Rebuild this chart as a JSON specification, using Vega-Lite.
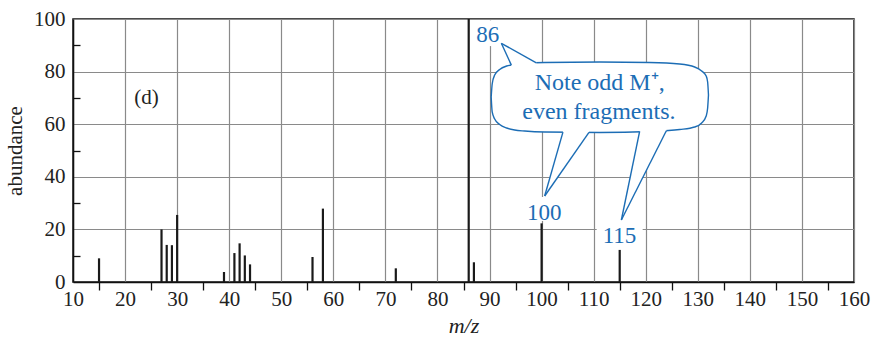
{
  "$schema": "https://vega.github.io/schema/vega-lite/v6.json",
  "width": 781,
  "height": 263,
  "autosize": {"type": "none"},
  "padding": {"left": 73, "top": 19, "right": 20, "bottom": 56},
  "config": {"view": {"stroke": "#111111", "strokeWidth": 1.5}, "font": "Liberation Serif"},
  "datasets": {
    "peaks": [
      {"mz": 15, "abundance": 9.0},
      {"mz": 27, "abundance": 20.0},
      {"mz": 28, "abundance": 14.1},
      {"mz": 29, "abundance": 14.0},
      {"mz": 30, "abundance": 25.5},
      {"mz": 39, "abundance": 3.8},
      {"mz": 41, "abundance": 11.0},
      {"mz": 42, "abundance": 14.7},
      {"mz": 43, "abundance": 10.1},
      {"mz": 44, "abundance": 6.7},
      {"mz": 56, "abundance": 9.5},
      {"mz": 58, "abundance": 27.9},
      {"mz": 72, "abundance": 5.2},
      {"mz": 86, "abundance": 100},
      {"mz": 87, "abundance": 7.5},
      {"mz": 100, "abundance": 22.3},
      {"mz": 115, "abundance": 12.2}
    ],
    "boxes": [
      {"x1": 86.95, "x2": 92.14, "y1": 99.5, "y2": 89.7},
      {"x1": 96.75, "x2": 104.05, "y1": 32.32, "y2": 23.19},
      {"x1": 110.58, "x2": 119.41, "y1": 22.05, "y2": 13.69}
    ],
    "bubble": [
      {"x": 90.32, "top": 70.34, "bottom": 70.34},
      {"x": 90.51, "top": 75.29, "bottom": 64.64},
      {"x": 90.99, "top": 78.71, "bottom": 61.98},
      {"x": 91.95, "top": 80.80, "bottom": 59.89},
      {"x": 93.29, "top": 82.13, "bottom": 58.56},
      {"x": 94.83, "top": 82.70, "bottom": 57.79},
      {"x": 96.75, "top": 83.08, "bottom": 57.41},
      {"x": 100.59, "top": 83.46, "bottom": 57.03},
      {"x": 111.15, "top": 83.65, "bottom": 56.84},
      {"x": 120.75, "top": 83.46, "bottom": 57.22},
      {"x": 126.52, "top": 82.89, "bottom": 57.98},
      {"x": 129.40, "top": 81.75, "bottom": 58.94},
      {"x": 130.74, "top": 80.23, "bottom": 60.46},
      {"x": 131.61, "top": 78.33, "bottom": 63.12},
      {"x": 131.89, "top": 76.05, "bottom": 66.16},
      {"x": 132.05, "top": 71.10, "bottom": 71.10}
    ],
    "pointerFill": [
      {"id": "p86", "x": 92.27, "top": 90.76, "bottom": 90.76},
      {"id": "p86", "x": 94.14, "top": 88.68, "bottom": 82.68},
      {"id": "p86", "x": 94.24, "top": 88.57, "bottom": 81.6},
      {"id": "p86", "x": 98.99, "top": 83.6, "bottom": 82.5},
      {"id": "p100", "x": 100.59, "top": 32.70, "bottom": 32.70},
      {"id": "p100", "x": 104.05, "top": 56.65, "bottom": 42.54},
      {"id": "p100", "x": 104.15, "top": 57.9, "bottom": 42.82},
      {"id": "p100", "x": 109.10, "top": 57.9, "bottom": 56.5},
      {"id": "p115", "x": 115.32, "top": 23.57, "bottom": 23.57},
      {"id": "p115", "x": 118.78, "top": 56.82, "bottom": 37.16},
      {"id": "p115", "x": 118.88, "top": 58.2, "bottom": 37.55},
      {"id": "p115", "x": 123.96, "top": 58.4, "bottom": 57.3}
    ],
    "pointerLines": [
      {"seg": "86a", "ord": 0, "x": 92.27, "y": 90.76},
      {"seg": "86a", "ord": 1, "x": 94.19, "y": 82.46},
      {"seg": "86b", "ord": 0, "x": 92.27, "y": 90.76},
      {"seg": "86b", "ord": 1, "x": 98.99, "y": 83.3},
      {"seg": "100a", "ord": 0, "x": 100.59, "y": 32.70},
      {"seg": "100a", "ord": 1, "x": 104.10, "y": 57.0},
      {"seg": "100b", "ord": 0, "x": 100.59, "y": 32.70},
      {"seg": "100b", "ord": 1, "x": 109.10, "y": 56.9},
      {"seg": "115a", "ord": 0, "x": 115.32, "y": 23.57},
      {"seg": "115a", "ord": 1, "x": 118.83, "y": 57.3},
      {"seg": "115b", "ord": 0, "x": 115.32, "y": 23.57},
      {"seg": "115b", "ord": 1, "x": 123.96, "y": 57.5}
    ],
    "peakLabels": [
      {"text": "86", "x": 89.64, "y": 91.37},
      {"text": "100", "x": 100.49, "y": 23.57},
      {"text": "115", "x": 114.97, "y": 14.7}
    ],
    "note": [
      {"text": "Note odd M⁺,", "x": 111.15, "y": 73.0},
      {"text": "even fragments.", "x": 111.0, "y": 61.98}
    ],
    "panel": [
      {"text": "(d)", "x": 24.1, "y": 67.7}
    ]
  },
  "layer": [
    {
      "data": {"name": "peaks"},
      "mark": {"type": "rule", "color": "#1a1a1a", "strokeWidth": 2.2},
      "encoding": {
        "x": {
          "field": "mz", "type": "quantitative",
          "scale": {"domain": [10, 160], "nice": false, "zero": false},
          "title": "m/z",
          "axis": {
            "orient": "bottom",
            "values": [10, 20, 30, 40, 50, 60, 70, 80, 90, 100, 110, 120, 130, 140, 150, 160],
            "ticks": false, "grid": true, "gridColor": "#8a8a8a", "gridWidth": 1.2,
            "domainColor": "#111111", "domainWidth": 1.5,
            "labelFont": "Liberation Serif", "labelFontSize": 21, "labelColor": "#222222",
            "labelPadding": 6, "labelOverlap": false, "labelFlush": false,
            "titleFont": "Liberation Serif", "titleFontStyle": "italic", "titleFontSize": 22,
            "titleFontWeight": "normal", "titleColor": "#222222", "titlePadding": 6
          }
        },
        "y": {
          "field": "abundance", "type": "quantitative",
          "scale": {"domain": [0, 100], "nice": false},
          "title": "abundance",
          "axis": {
            "orient": "left",
            "values": [0, 20, 40, 60, 80, 100],
            "ticks": false, "grid": true, "gridColor": "#8a8a8a", "gridWidth": 1.2,
            "domainColor": "#111111", "domainWidth": 1.5,
            "labelFont": "Liberation Serif", "labelFontSize": 21, "labelColor": "#222222",
            "labelPadding": 8, "labelOverlap": false, "labelFlush": false,
            "titleFont": "Liberation Serif", "titleFontSize": 21,
            "titleFontWeight": "normal", "titleColor": "#222222", "titlePadding": 8
          }
        },
        "y2": {"datum": 0}
      }
    },
    {
      "data": {"name": "boxes"},
      "mark": {"type": "rect", "fill": "white", "stroke": null},
      "encoding": {
        "x": {
          "field": "x1", "type": "quantitative",
          "scale": {"domain": [10, 160], "nice": false, "zero": false},
          "axis": {
            "orient": "bottom", "title": null,
            "values": [15, 25, 35, 45, 55, 65, 75, 85, 95, 105, 115, 125, 135, 145, 155],
            "ticks": true, "tickSize": 8, "tickColor": "#111111", "tickWidth": 1.3,
            "labels": false, "domain": false, "grid": false
          }
        },
        "x2": {"field": "x2"},
        "y": {
          "field": "y1", "type": "quantitative",
          "scale": {"domain": [0, 100], "nice": false},
          "axis": {
            "orient": "left", "title": null,
            "values": [10, 30, 50, 70, 90],
            "ticks": true, "tickSize": -7, "tickColor": "#111111", "tickWidth": 1.3,
            "labels": false, "domain": false, "grid": false
          }
        },
        "y2": {"field": "y2"}
      }
    },
    {
      "data": {"name": "bubble"},
      "mark": {"type": "area", "fill": "white", "stroke": "#1c6db5", "strokeWidth": 1.4, "interpolate": "monotone"},
      "encoding": {
        "x": {"field": "x", "type": "quantitative", "scale": {"domain": [10, 160], "nice": false, "zero": false}, "axis": null},
        "y": {"field": "top", "type": "quantitative", "scale": {"domain": [0, 100], "nice": false}, "axis": null},
        "y2": {"field": "bottom"}
      }
    },
    {
      "data": {"name": "pointerFill"},
      "mark": {"type": "area", "fill": "white", "stroke": null},
      "encoding": {
        "x": {"field": "x", "type": "quantitative", "scale": {"domain": [10, 160], "nice": false, "zero": false}, "axis": null},
        "y": {"field": "top", "type": "quantitative", "scale": {"domain": [0, 100], "nice": false}, "axis": null},
        "y2": {"field": "bottom"},
        "detail": {"field": "id"}
      }
    },
    {
      "data": {"name": "pointerLines"},
      "mark": {"type": "line", "color": "#1c6db5", "strokeWidth": 1.4},
      "encoding": {
        "x": {"field": "x", "type": "quantitative", "scale": {"domain": [10, 160], "nice": false, "zero": false}, "axis": null},
        "y": {"field": "y", "type": "quantitative", "scale": {"domain": [0, 100], "nice": false}, "axis": null},
        "detail": {"field": "seg"},
        "order": {"field": "ord"}
      }
    },
    {
      "data": {"name": "peakLabels"},
      "mark": {"type": "text", "color": "#1c6db5", "font": "Liberation Serif", "fontSize": 23, "align": "center", "baseline": "alphabetic"},
      "encoding": {
        "x": {"field": "x", "type": "quantitative", "scale": {"domain": [10, 160], "nice": false, "zero": false}, "axis": null},
        "y": {"field": "y", "type": "quantitative", "scale": {"domain": [0, 100], "nice": false}, "axis": null},
        "text": {"field": "text"}
      }
    },
    {
      "data": {"name": "note"},
      "mark": {"type": "text", "color": "#1c6db5", "font": "Liberation Serif", "fontSize": 24, "align": "center", "baseline": "alphabetic"},
      "encoding": {
        "x": {"field": "x", "type": "quantitative", "scale": {"domain": [10, 160], "nice": false, "zero": false}, "axis": null},
        "y": {"field": "y", "type": "quantitative", "scale": {"domain": [0, 100], "nice": false}, "axis": null},
        "text": {"field": "text"}
      }
    },
    {
      "data": {"name": "panel"},
      "mark": {"type": "text", "color": "#222222", "font": "Liberation Serif", "fontSize": 21, "align": "center", "baseline": "alphabetic"},
      "encoding": {
        "x": {"field": "x", "type": "quantitative", "scale": {"domain": [10, 160], "nice": false, "zero": false}, "axis": null},
        "y": {"field": "y", "type": "quantitative", "scale": {"domain": [0, 100], "nice": false}, "axis": null},
        "text": {"field": "text"}
      }
    }
  ],
  "resolve": {"axis": {"x": "independent", "y": "independent"}}
}
